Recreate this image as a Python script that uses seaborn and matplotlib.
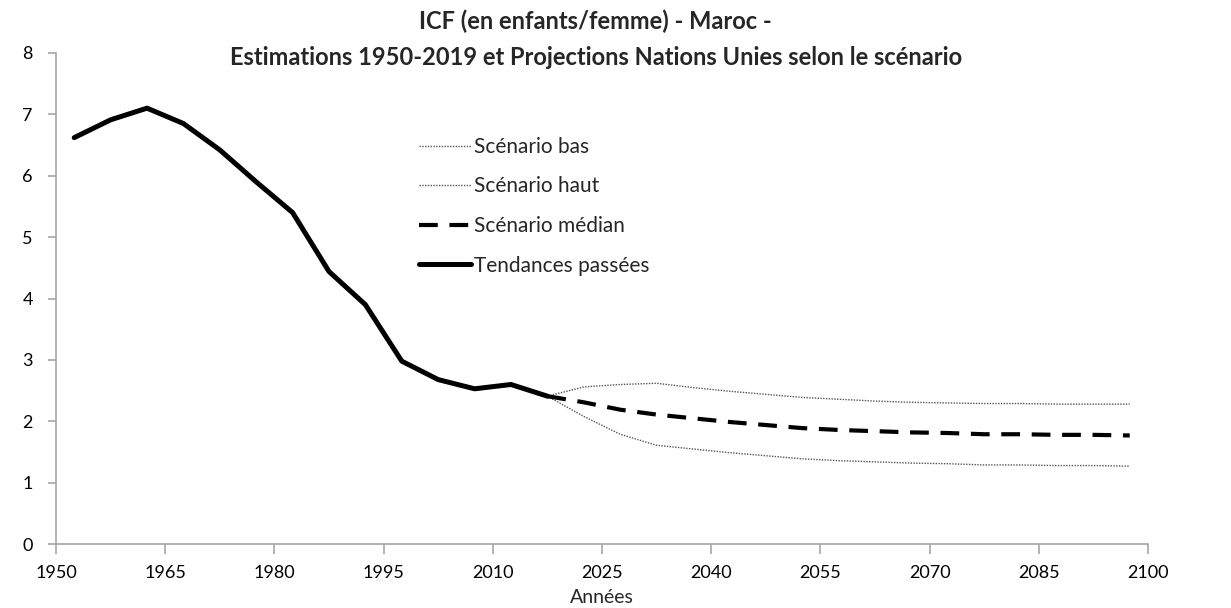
import numpy as np
import pandas as pd
import matplotlib
matplotlib.use("Agg")
import matplotlib.pyplot as plt
import seaborn as sns

# --------------------------------------------------------------
# Données (ICF Maroc, estimations et projections ONU)
# --------------------------------------------------------------
annees_passees = [1952.5, 1957.5, 1962.5, 1967.5, 1972.5, 1977.5, 1982.5,
                  1987.5, 1992.5, 1997.5, 2002.5, 2007.5, 2012.5, 2017.5]
icf_passe = [6.62, 6.91, 7.10, 6.85, 6.42, 5.90, 5.40,
             4.44, 3.90, 2.98, 2.68, 2.53, 2.60, 2.41]

annees_proj = [2017.5, 2022.5, 2027.5, 2032.5, 2037.5, 2042.5, 2047.5, 2052.5,
               2057.5, 2062.5, 2067.5, 2072.5, 2077.5, 2082.5, 2087.5,
               2092.5, 2097.5]
icf_median = [2.41, 2.31, 2.19, 2.11, 2.05, 1.99, 1.94, 1.89,
              1.86, 1.84, 1.82, 1.81, 1.79, 1.79, 1.78, 1.78, 1.77]
icf_haut = [2.41, 2.56, 2.60, 2.62, 2.55, 2.49, 2.44, 2.39,
            2.36, 2.33, 2.31, 2.30, 2.29, 2.29, 2.28, 2.28, 2.28]
icf_bas = [2.41, 2.08, 1.79, 1.61, 1.55, 1.49, 1.44, 1.39,
           1.36, 1.34, 1.32, 1.31, 1.29, 1.29, 1.28, 1.28, 1.27]

ticks_x = [1950, 1965, 1980, 1995, 2010, 2025, 2040, 2055, 2070, 2085, 2100]

titre_1 = "ICF (en enfants/femme) - Maroc -"
titre_2 = "Estimations 1950-2019 et Projections Nations Unies selon le scénario"

# --------------------------------------------------------------
# Style
# --------------------------------------------------------------
sns.set_style("white")
plt.rcParams["font.family"] = ["Lato", "DejaVu Sans"]

gris_axe = "#A6A6A6"

fig = plt.figure(figsize=(12.31, 6.08), dpi=100)
ax = fig.add_axes([0.0455, 0.105, 0.887, 0.808])

sns.lineplot(x=annees_proj, y=icf_bas, ax=ax, color="#555555", lw=1.0,
             linestyle=(0, (1, 1)), label="Scénario bas")
sns.lineplot(x=annees_proj, y=icf_haut, ax=ax, color="#555555", lw=1.0,
             linestyle=(0, (1, 1)), label="Scénario haut")
sns.lineplot(x=annees_proj, y=icf_median, ax=ax, color="black", lw=3.0,
             linestyle=(0, (4.5, 2.8)), label="Scénario médian")
sns.lineplot(x=annees_passees, y=icf_passe, ax=ax, color="black", lw=3.6,
             label="Tendances passées")

ax.set_xlim(1950, 2100)
ax.set_ylim(0, 8)
ax.set_xticks(ticks_x)
ax.set_yticks(range(0, 9))
ax.tick_params(axis="both", labelsize=13, colors=gris_axe, labelcolor="black",
               direction="out", length=5.5, width=1.2, left=True, bottom=True)
ax.tick_params(axis="x", length=7, pad=8)
ax.tick_params(axis="y", pad=15)
for lab in ax.get_yticklabels():
    lab.set_horizontalalignment("center")

for s in ["top", "right"]:
    ax.spines[s].set_visible(False)
for s in ["left", "bottom"]:
    ax.spines[s].set_color(gris_axe)
    ax.spines[s].set_linewidth(1.2)

ax.set_xlabel("Années", fontsize=14, labelpad=6)
ax.set_ylabel("")

leg = ax.legend(loc="upper left", bbox_to_anchor=(0.325, 0.846), frameon=False,
                fontsize=15, handlelength=2.5, handletextpad=0.12,
                labelspacing=0.94, borderaxespad=0)

fig.text(0.484, 0.965, titre_1, ha="center", va="center", fontsize=17,
         fontweight="bold")
fig.text(0.484, 0.905, titre_2, ha="center", va="center", fontsize=17,
         fontweight="bold")

fig.savefig("out.png", dpi=100)
plt.close(fig)
